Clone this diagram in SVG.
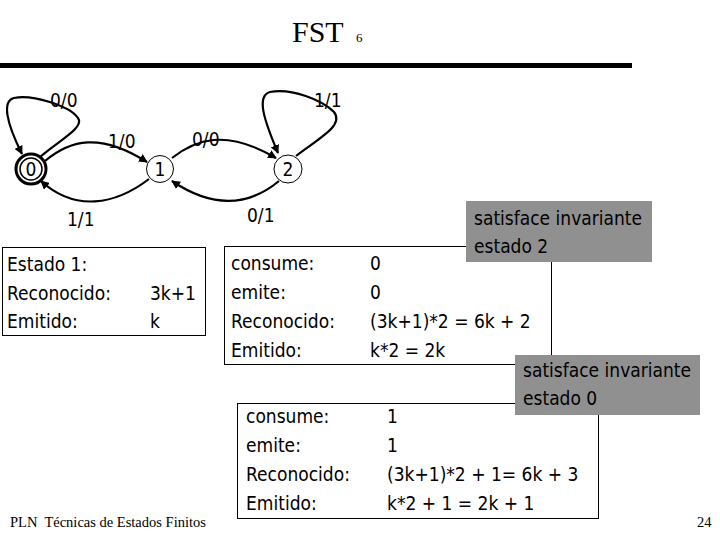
<svg xmlns="http://www.w3.org/2000/svg" width="720" height="540" viewBox="0 0 720 540">
<style>
.t{font-family:"DejaVu Sans Condensed","DejaVu Sans",sans-serif;font-stretch:condensed;font-size:19px;fill:#000}
.serif{font-family:"Liberation Serif","Times New Roman",serif;fill:#000}
.edge{fill:none;stroke:#000;stroke-width:2.2;marker-end:url(#ah)}
.node{fill:#fff;stroke:#000;stroke-width:1}
.box{fill:#fff;stroke:#000;stroke-width:1}
.gray{fill:#909090;stroke:none}
</style>
<defs>
<marker id="ah" viewBox="0 0 10 10" refX="9" refY="5" markerWidth="4" markerHeight="4" orient="auto" markerUnits="strokeWidth">
<path d="M0,0 L10,5 L0,10 z" fill="#000"/>
</marker>
</defs>
<rect width="720" height="540" fill="#fff"/>
<text class="serif" x="292" y="42" font-size="30">FST</text>
<text class="serif" x="356" y="42" font-size="13">6</text>
<line x1="0" y1="65.5" x2="632" y2="65.5" stroke="#000" stroke-width="5"/>

<g id="connectors">
<path class="edge" d="M40,157 C60,140 85,127 78,118 C70,106 32,94 14,98 C2,101 6,122 22,154"/>
<path class="edge" d="M296,156 C316,140 345,126 334,112 C322,100 292,88 270,92 C256,96 264,120 278,153"/>
<path class="edge" d="M45,161 C70,140 100,132 147,162"/>
<path class="edge" d="M172,158 C195,140 225,128 276,158"/>
<path class="edge" d="M149,179 C115,205 75,212 41,181"/>
<path class="edge" d="M279,181 C250,205 215,210 172,181"/>
<text class="t" x="50" y="107">0/0</text>
<text class="t" x="314" y="107">1/1</text>
<text class="t" x="108" y="148">1/0</text>
<text class="t" x="192" y="146">0/0</text>
<text class="t" x="67" y="226">1/1</text>
<text class="t" x="247" y="222">0/1</text>
</g>

<g id="node0">
<circle cx="31" cy="169" r="15" fill="#fff" stroke="#000" stroke-width="3"/>
<circle cx="31" cy="169" r="11" fill="none" stroke="#000" stroke-width="1.5"/>
<text class="t" x="31" y="176" text-anchor="middle">0</text>
</g>
<g id="node1">
<circle class="node" cx="160" cy="169" r="13.5"/>
<text class="t" x="160" y="176" text-anchor="middle">1</text>
</g>
<g id="node2">
<circle class="node" cx="288" cy="169" r="14"/>
<text class="t" x="288" y="176" text-anchor="middle">2</text>
</g>

<g id="box-estado1">
<rect class="box" x="2.5" y="247.5" width="203" height="88"/>
<text class="t" x="7" y="271">Estado 1:</text>
<text class="t" x="7" y="300">Reconocido:</text>
<text class="t" x="150" y="300">3k+1</text>
<text class="t" x="7" y="328">Emitido:</text>
<text class="t" x="150" y="328">k</text>
</g>

<g id="box-trans0">
<rect class="box" x="224.5" y="246.5" width="327" height="118"/>
<text class="t" x="231" y="270">consume:</text>
<text class="t" x="370" y="270">0</text>
<text class="t" x="231" y="299">emite:</text>
<text class="t" x="370" y="299">0</text>
<text class="t" x="231" y="328">Reconocido:</text>
<text class="t" x="370" y="328">(3k+1)*2 = 6k + 2</text>
<text class="t" x="231" y="357">Emitido:</text>
<text class="t" x="370" y="357">k*2 = 2k</text>
</g>

<g id="note-estado2">
<rect class="gray" x="466" y="201" width="186" height="61"/>
<text class="t" x="474" y="225">satisface invariante</text>
<text class="t" x="474" y="253">estado 2</text>
</g>

<g id="box-trans1">
<rect class="box" x="237.5" y="403.5" width="361" height="115"/>
<text class="t" x="246" y="423">consume:</text>
<text class="t" x="387" y="423">1</text>
<text class="t" x="246" y="452">emite:</text>
<text class="t" x="387" y="452">1</text>
<text class="t" x="246" y="481">Reconocido:</text>
<text class="t" x="387" y="481">(3k+1)*2 + 1= 6k + 3</text>
<text class="t" x="246" y="510">Emitido:</text>
<text class="t" x="387" y="510">k*2 + 1 = 2k + 1</text>
</g>

<g id="note-estado0">
<rect class="gray" x="515" y="355" width="185" height="60"/>
<text class="t" x="523" y="377">satisface invariante</text>
<text class="t" x="523" y="405">estado 0</text>
</g>

<text class="serif" x="10" y="527" font-size="14.5">PLN&#160; Técnicas de Estados Finitos</text>
<text class="serif" x="697" y="527" font-size="14.5">24</text>
</svg>
